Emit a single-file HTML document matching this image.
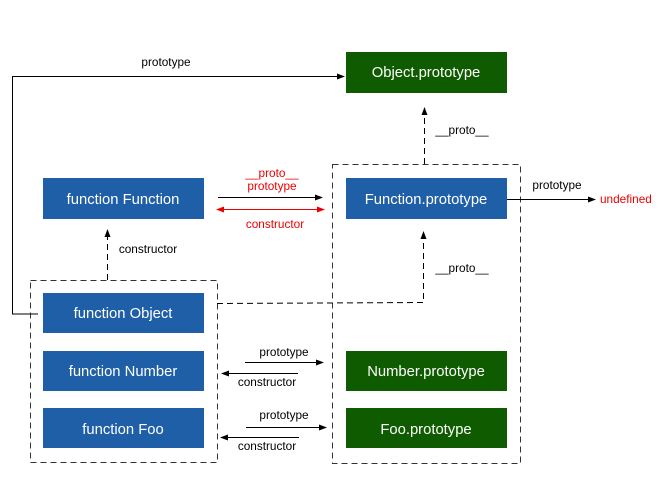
<!DOCTYPE html>
<html><head><meta charset="utf-8"><style>
html,body{margin:0;padding:0;background:#fff;}
svg{display:block;font-family:"Liberation Sans",Arial,sans-serif;}
</style></head><body>
<svg width="663" height="488" viewBox="0 0 663 488" xmlns="http://www.w3.org/2000/svg">
<defs>
<marker id="ab" markerWidth="8" markerHeight="8" refX="7" refY="4" orient="auto" markerUnits="userSpaceOnUse"><path d="M0,1 L8,4 L0,7 z" fill="#000"/></marker>
<marker id="ar" markerWidth="8" markerHeight="8" refX="7" refY="4" orient="auto-start-reverse" markerUnits="userSpaceOnUse"><path d="M0,1 L8,4 L0,7 z" fill="#e00"/></marker>
</defs>
<g fill="none" stroke="#333" stroke-dasharray="6,4" stroke-width="1">
<rect x="30.5" y="280.5" width="187" height="182"/>
<rect x="332.5" y="164.5" width="188" height="299"/>
</g>
<g fill="#1f5fa8">
<rect x="43" y="178" width="161" height="41"/>
<rect x="43" y="293" width="161" height="40"/>
<rect x="43" y="351" width="161" height="40"/>
<rect x="43" y="408" width="161" height="40"/>
<rect x="346" y="178" width="161" height="41"/>
</g>
<g fill="#0f5c00">
<rect x="346" y="52" width="161" height="41"/>
<rect x="346" y="351" width="161" height="40"/>
<rect x="346" y="408" width="161" height="40"/>
</g>
<g fill="#fff" font-size="14.8" text-anchor="middle">
<text x="123" y="204">function Function</text>
<text x="123" y="318">function Object</text>
<text x="123" y="376">function Number</text>
<text x="123" y="434">function Foo</text>
<text x="426" y="204">Function.prototype</text>
<text x="426" y="77">Object.prototype</text>
<text x="426" y="376">Number.prototype</text>
<text x="426" y="434">Foo.prototype</text>
</g>
<g stroke="#000" stroke-width="1" fill="none">
<polyline points="38,314 12.5,314 12.5,76.5 344,76.5" marker-end="url(#ab)"/>
<line x1="218" y1="197.5" x2="322" y2="197.5" marker-end="url(#ab)"/>
<line x1="507" y1="199.5" x2="595" y2="199.5" marker-end="url(#ab)"/>
<line x1="245" y1="362.5" x2="323" y2="362.5" marker-end="url(#ab)"/>
<line x1="298" y1="373.5" x2="222" y2="373.5" marker-end="url(#ab)"/>
<line x1="246" y1="427.5" x2="326" y2="427.5" marker-end="url(#ab)"/>
<line x1="299" y1="437.5" x2="221" y2="437.5" marker-end="url(#ab)"/>
</g>
<g stroke="#000" stroke-width="1" fill="none" stroke-dasharray="6,4">
<line x1="424.5" y1="164" x2="424.5" y2="108" marker-end="url(#ab)"/>
<line x1="107.5" y1="280" x2="107.5" y2="230" marker-end="url(#ab)"/>
<polyline points="217,303.5 423.5,302.5 423.5,232" marker-end="url(#ab)"/>
</g>
<line x1="217" y1="209.5" x2="324" y2="209.5" stroke="#e00" stroke-width="1" marker-start="url(#ar)" marker-end="url(#ar)"/>
<g font-size="11.8" fill="#000" text-anchor="middle">
<text x="166" y="66">prototype</text>
<text x="462" y="134">__proto__</text>
<text x="148" y="253">constructor</text>
<text x="462" y="272">__proto__</text>
<text x="557" y="189">prototype</text>
<text x="284" y="356">prototype</text>
<text x="267" y="386">constructor</text>
<text x="284" y="419">prototype</text>
<text x="267" y="450">constructor</text>
</g>
<g font-size="11.8" fill="#e00" text-anchor="middle">
<text x="272" y="177">__proto__</text>
<text x="272" y="190">prototype</text>
<text x="275" y="228">constructor</text>
</g>
<text x="600" y="203" font-size="11.8" fill="#e00">undefined</text>
</svg>
</body></html>
